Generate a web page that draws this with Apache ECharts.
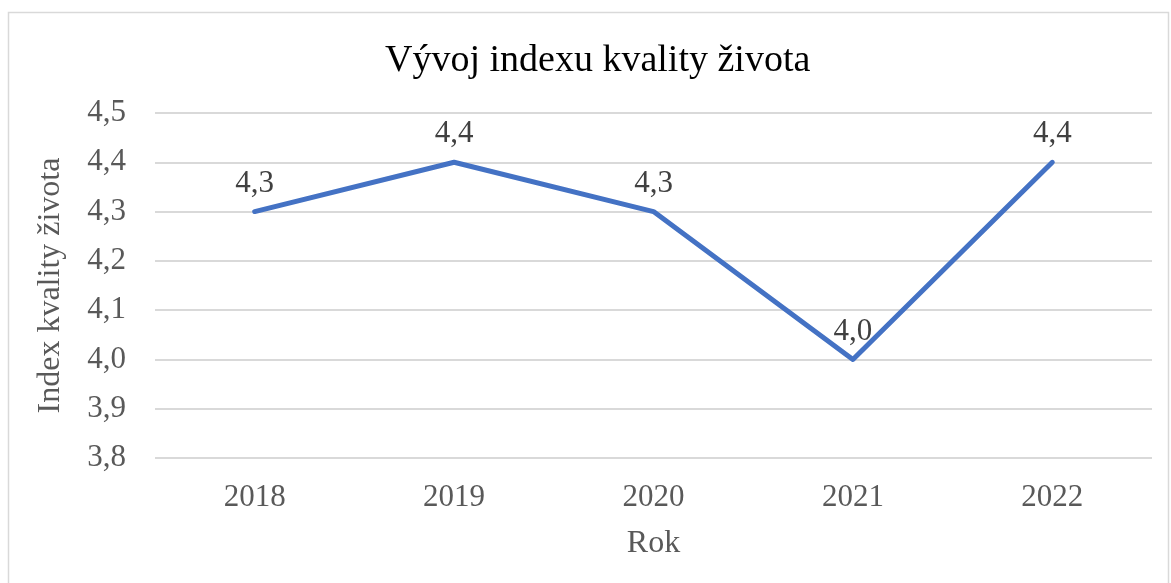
<!DOCTYPE html>
<html>
<head>
<meta charset="utf-8">
<script src="https://cdn.jsdelivr.net/npm/echarts@6/dist/echarts.min.js"></script>
<style>
  html, body { margin: 0; padding: 0; background: #fff; }
  #chart { width: 1171px; height: 583px; }
</style>
</head>
<body>
<div id="chart"></div>
<script>
var years = ['2018', '2019', '2020', '2021', '2022'];
var indexValues = [4.3, 4.4, 4.3, 4.0, 4.4];
var yTicks = [3.8, 3.9, 4.0, 4.1, 4.2, 4.3, 4.4, 4.5];

var font = '"Liberation Serif", "Times New Roman", serif';
var chart = echarts.init(document.getElementById('chart'));

function comma(v) {
  return v.toFixed(1).replace('.', ',');
}

var option = {
  backgroundColor: '#ffffff',
  animation: false,
  graphic: [{
    type: 'rect',
    shape: { x: 8.5, y: 12.5, width: 1160, height: 590 },
    style: { fill: 'none', stroke: '#d9d9d9', lineWidth: 1.5 },
    silent: true
  }],
  title: {
    text: 'Vývoj indexu kvality života',
    left: 380,
    top: 37,
    textStyle: { fontFamily: font, fontSize: 38, fontWeight: 'normal', color: '#000000' }
  },
  grid: { left: 155, right: 19, top: 113, bottom: 125, containLabel: false },
  xAxis: {
    type: 'category',
    data: years,
    boundaryGap: true,
    name: 'Rok',
    nameLocation: 'middle',
    nameGap: 70,
    nameTextStyle: { fontFamily: font, fontSize: 32, color: '#595959' },
    axisLine: { show: false },
    axisTick: { show: false },
    axisLabel: { margin: 24, fontFamily: font, fontSize: 31, color: '#595959' }
  },
  yAxis: {
    type: 'value',
    min: yTicks[0],
    max: yTicks[yTicks.length - 1],
    interval: 0.1,
    name: 'Index kvality života',
    nameLocation: 'middle',
    nameGap: 88,
    nameTextStyle: { fontFamily: font, fontSize: 32, color: '#595959' },
    axisLine: { show: false },
    axisTick: { show: false },
    axisLabel: {
      margin: 29,
      fontFamily: font, fontSize: 31, color: '#595959',
      formatter: function (v) { return comma(v); }
    },
    splitLine: { lineStyle: { color: '#d9d9d9', width: 2 } }
  },
  series: [{
    type: 'line',
    data: indexValues,
    symbol: 'circle',
    symbolSize: 1,
    showSymbol: true,
    itemStyle: { color: 'rgba(68,114,196,0)', borderWidth: 0 },
    lineStyle: { color: '#4472c4', width: 5, cap: 'round', join: 'round' },
    label: {
      show: true,
      position: 'top',
      distance: 12,
      fontFamily: font, fontSize: 31, color: '#404040',
      formatter: function (p) { return comma(p.value); }
    }
  }]
};

chart.setOption(option);
</script>
</body>
</html>
